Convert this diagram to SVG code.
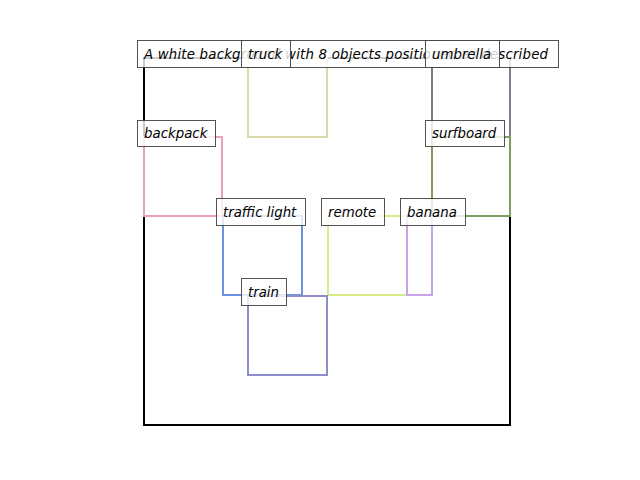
<svg xmlns="http://www.w3.org/2000/svg" width="640" height="480" viewBox="0 0 640 480">
<style>
.box{fill:none;stroke-width:2;stroke-linejoin:miter}
.lb rect{fill:#ffffff;fill-opacity:0.8;stroke:#3f3f3f;stroke-opacity:0.9;stroke-width:1}
.lb text{font-family:"DejaVu Sans",sans-serif;font-style:italic;font-size:13.33px;fill:#000}
</style>
<rect width="640" height="480" fill="#ffffff"/>
<g id="frame"><rect x="144" y="58" width="366" height="367" fill="none" stroke="#000" stroke-width="2"/></g>
<g id="connectors"></g>
<g id="truck-box"><rect class="box" x="248" y="58" width="79" height="79" stroke="#d9d9a9"/></g>
<g id="umbrella-box"><rect class="box" x="432" y="58" width="78" height="79" stroke="#7f7a8c"/></g>
<g id="backpack-box"><rect class="box" x="144" y="137" width="78" height="79" stroke="#eaa0b8"/></g>
<g id="surfboard-box"><rect class="box" x="432" y="137" width="78" height="79" stroke="#7f9c62"/></g>
<g id="trafficlight-box"><rect class="box" x="223" y="216" width="79" height="79" stroke="#6b93de"/></g>
<g id="remote-box"><rect class="box" x="328" y="216" width="79" height="79" stroke="#d5ec88"/></g>
<g id="banana-box"><rect class="box" x="407" y="216" width="25" height="79" stroke="#c9a2ec"/></g>
<g id="train-box"><rect class="box" x="248" y="296" width="79" height="79" stroke="#8c8ec9"/></g>
<g id="title" class="lb"><rect x="137.5" y="40.5" width="421" height="27"/><text x="144" y="59" textLength="404" lengthAdjust="spacing">A white background with 8 objects positioned as described</text></g>
<g id="truck" class="lb"><rect x="241.5" y="40.5" width="49" height="27"/><text x="248" y="59">truck</text></g>
<g id="umbrella" class="lb"><rect x="425.5" y="40.5" width="74" height="27"/><text x="432" y="59">umbrella</text></g>
<g id="backpack" class="lb"><rect x="137.5" y="120.5" width="78" height="26"/><text x="144" y="138">backpack</text></g>
<g id="surfboard" class="lb"><rect x="425.5" y="120.5" width="79" height="26"/><text x="432" y="138">surfboard</text></g>
<g id="trafficlight" class="lb"><rect x="216.5" y="198.5" width="89" height="27"/><text x="223" y="217">traffic light</text></g>
<g id="remote" class="lb"><rect x="321.5" y="198.5" width="63" height="27"/><text x="328" y="217">remote</text></g>
<g id="banana" class="lb"><rect x="400.5" y="198.5" width="65" height="27"/><text x="407" y="217">banana</text></g>
<g id="train" class="lb"><rect x="241.5" y="278.5" width="45" height="27"/><text x="248" y="297">train</text></g>
</svg>
